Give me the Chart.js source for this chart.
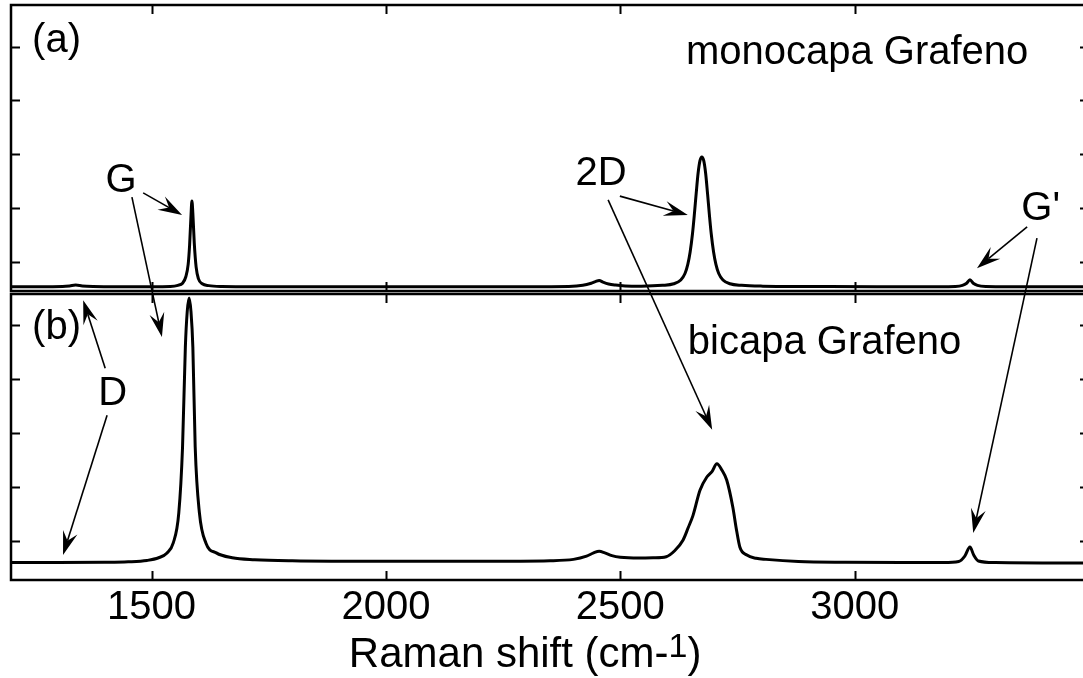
<!DOCTYPE html>
<html>
<head>
<meta charset="utf-8">
<title>Raman grafeno</title>
<script src="https://cdn.jsdelivr.net/npm/chart.js@4.4.1/dist/chart.umd.min.js"></script>
<style>
  html, body { margin: 0; padding: 0; background: #fff; overflow: hidden; }
  #raman { display: block; }
</style>
</head>
<body>
<canvas id="raman" width="1100" height="678"></canvas>
<script>
// axis ticks
const shiftTicks = [1500, 2000, 2500, 3000];
const intensityTicks = [0.5, 1.5, 2.5, 3.5, 4.5];

// (a) monolayer spectrum: Raman shift (cm-1) / intensity (a.u.)
const monoShift = [
  1200, 1260, 1310, 1325, 1338, 1352, 1375, 1430, 1500, 1540,
  1556, 1566, 1573, 1578, 1581, 1584, 1586, 1588, 1591, 1595,
  1600, 1608, 1622, 1650, 1750, 1900, 2100, 2300, 2390, 2420,
  2438, 2447, 2455, 2463, 2475, 2490, 2510, 2545, 2590, 2614,
  2629, 2638, 2644, 2649, 2654, 2658, 2662, 2666, 2670, 2674,
  2678, 2682, 2686, 2690, 2694, 2699, 2704, 2710, 2719, 2734,
  2759, 2804, 2900, 3050, 3180, 3215, 3230, 3239, 3246, 3253,
  3262, 3280, 3330, 3420, 3500
];
const monoCounts = [
  0.035, 0.035, 0.04, 0.05, 0.065, 0.05, 0.04, 0.035, 0.035, 0.04,
  0.06, 0.10, 0.22, 0.45, 0.80, 1.35, 1.63, 1.40, 0.85, 0.40,
  0.18, 0.09, 0.055, 0.04, 0.035, 0.035, 0.035, 0.035, 0.04, 0.06,
  0.10, 0.13, 0.15, 0.12, 0.085, 0.065, 0.05, 0.045, 0.06, 0.09,
  0.16, 0.28, 0.45, 0.68, 1.02, 1.38, 1.78, 2.15, 2.38, 2.45,
  2.38, 2.15, 1.78, 1.38, 1.02, 0.68, 0.45, 0.28, 0.16, 0.09,
  0.06, 0.045, 0.04, 0.035, 0.035, 0.04, 0.06, 0.10, 0.165, 0.10,
  0.06, 0.04, 0.035, 0.035, 0.035
];

// (b) bilayer spectrum
const biShift = [
  1200, 1300, 1400, 1450, 1490, 1515, 1533, 1546, 1558, 1566,
  1572, 1576, 1580, 1584, 1588, 1593, 1602, 1616, 1638, 1672,
  1720, 1800, 2000, 2200, 2350, 2400, 2428, 2443, 2455, 2467,
  2482, 2500, 2540, 2570, 2598, 2616, 2634, 2645, 2655, 2670,
  2685, 2696, 2706, 2717, 2727, 2740, 2748, 2755, 2770, 2790,
  2811, 2880, 2980, 3100, 3190, 3222, 3235, 3246, 3254, 3264,
  3300, 3400, 3500
];
const biCounts = [
  0.10, 0.10, 0.105, 0.115, 0.14, 0.19, 0.28, 0.46, 1.02, 2.24,
  4.09, 4.75, 5.00, 4.75, 4.09, 2.24, 1.02, 0.46, 0.28, 0.19,
  0.155, 0.135, 0.125, 0.125, 0.135, 0.16, 0.22, 0.28, 0.31, 0.28,
  0.23, 0.20, 0.185, 0.19, 0.21, 0.32, 0.52, 0.75, 0.97, 1.44,
  1.69, 1.79, 1.93, 1.81, 1.63, 1.13, 0.70, 0.39, 0.24, 0.18,
  0.16, 0.12, 0.105, 0.10, 0.10, 0.12, 0.22, 0.39, 0.24, 0.13,
  0.10, 0.095, 0.095
];

const FONT = "'Liberation Sans', Arial, sans-serif";

// text labels, placed in data units of their panel
const notes = [
  { text: '(a)', x: 1245, y: 4.60, axis: 'ya', align: 'left' },
  { text: 'monocapa Grafeno', x: 2640, y: 4.38, axis: 'ya', align: 'left' },
  { text: 'G', x: 1435, y: 2.01, axis: 'ya', align: 'center' },
  { text: '2D', x: 2459, y: 2.14, axis: 'ya', align: 'center' },
  { text: "G'", x: 3397, y: 1.48, axis: 'ya', align: 'center' },
  { text: '(b)', x: 1245, y: 4.45, axis: 'yb', align: 'left' },
  { text: 'bicapa Grafeno', x: 2644, y: 4.16, axis: 'yb', align: 'left' },
  { text: 'D', x: 1417, y: 3.22, axis: 'yb', align: 'center' }
];

// arrows from each label to its band: [shift, intensity, axis]
const arrows = [
  { from: [1482, 1.78, 'ya'], to: [1565, 1.37, 'ya'] },
  { from: [1458, 1.70, 'ya'], to: [1522, 4.28, 'yb'] },
  { from: [1401, 3.70, 'yb'], to: [1354, 4.96, 'yb'] },
  { from: [1405, 2.83, 'yb'], to: [1311, 0.24, 'yb'] },
  { from: [2499, 1.72, 'ya'], to: [2644, 1.37, 'ya'] },
  { from: [2474, 1.65, 'ya'], to: [2696, 2.56, 'yb'] },
  { from: [3368, 1.15, 'ya'], to: [3261, 0.38, 'ya'] },
  { from: [3389, 0.94, 'ya'], to: [3253, 0.65, 'yb'] }
];

const toPoints = (xs, ys) => xs.map((x, i) => ({ x, y: ys[i] }));

function drawArrow(ctx, x1, y1, x2, y2) {
  const ang = Math.atan2(y2 - y1, x2 - x1);
  const c = Math.cos(ang), s = Math.sin(ang);
  const len = 24, half = 7.5, notch = 0.62;
  ctx.beginPath();
  ctx.moveTo(x1, y1);
  ctx.lineTo(x2 - c * len * notch, y2 - s * len * notch);
  ctx.stroke();
  const bx = x2 - c * len, by = y2 - s * len;
  ctx.beginPath();
  ctx.moveTo(x2, y2);
  ctx.lineTo(bx - s * half, by + c * half);
  ctx.lineTo(x2 - c * len * notch, y2 - s * len * notch);
  ctx.lineTo(bx + s * half, by - c * half);
  ctx.closePath();
  ctx.fill();
}

const panelFrame = {
  id: 'panelFrame',
  afterDatasetsDraw(chart) {
    const { ctx, scales } = chart;
    const x = scales.x;
    const tick = 9;
    ctx.save();
    ctx.strokeStyle = '#000';
    ctx.fillStyle = '#000';

    // two framed panels with a thin gap between them
    [['ya', 0, 1.5], ['yb', 1.5, 0]].forEach(([id, inTop, inBottom]) => {
      const y = scales[id];
      const top = y.top + inTop, bottom = y.bottom - inBottom;
      ctx.lineWidth = 2.5;
      ctx.strokeRect(x.left, top, x.right - x.left, bottom - top);

      ctx.lineWidth = 2;
      ctx.beginPath();
      shiftTicks.forEach(v => {
        const px = Math.round(x.getPixelForValue(v)) + 0.5;
        ctx.moveTo(px, top); ctx.lineTo(px, top + tick);
        ctx.moveTo(px, bottom); ctx.lineTo(px, bottom - tick);
      });
      intensityTicks.forEach(v => {
        const py = Math.round(y.getPixelForValue(v)) + 0.5;
        ctx.moveTo(x.left, py); ctx.lineTo(x.left + tick, py);
        ctx.moveTo(x.right, py); ctx.lineTo(x.right - tick, py);
      });
      ctx.stroke();
    });

    // band labels
    ctx.font = '40px ' + FONT;
    ctx.textBaseline = 'middle';
    notes.forEach(n => {
      ctx.textAlign = n.align;
      ctx.fillText(n.text, x.getPixelForValue(n.x), scales[n.axis].getPixelForValue(n.y));
    });

    ctx.lineWidth = 1.6;
    arrows.forEach(a => {
      drawArrow(ctx,
        x.getPixelForValue(a.from[0]), scales[a.from[2]].getPixelForValue(a.from[1]),
        x.getPixelForValue(a.to[0]), scales[a.to[2]].getPixelForValue(a.to[1]));
    });

    // axis title with superscript exponent
    const main = 'Raman shift (cm-', sup = '1', tail = ')';
    ctx.textAlign = 'left';
    ctx.textBaseline = 'alphabetic';
    ctx.font = '42px ' + FONT;
    const wMain = ctx.measureText(main).width, wTail = ctx.measureText(tail).width;
    ctx.font = '34px ' + FONT;
    const wSup = ctx.measureText(sup).width;
    const total = wMain + wSup + wTail;
    let tx = x.getPixelForValue(2297) - total / 2;
    const base = chart.height - 11;
    ctx.font = '42px ' + FONT;
    ctx.fillText(main, tx, base);
    ctx.font = '34px ' + FONT;
    ctx.fillText(sup, tx + wMain, base - 10);
    ctx.font = '42px ' + FONT;
    ctx.fillText(tail, tx + wMain + wSup, base);
    ctx.restore();
  }
};

const lineStyle = {
  borderColor: '#000',
  borderWidth: 3,
  pointRadius: 0,
  fill: false,
  cubicInterpolationMode: 'monotone'
};

new Chart(document.getElementById('raman'), {
  type: 'line',
  data: {
    datasets: [
      { label: 'monocapa Grafeno', data: toPoints(monoShift, monoCounts), yAxisID: 'ya', ...lineStyle },
      { label: 'bicapa Grafeno', data: toPoints(biShift, biCounts), yAxisID: 'yb', ...lineStyle }
    ]
  },
  options: {
    responsive: false,
    animation: false,
    events: [],
    layout: { padding: { left: 11, right: 11, top: 5, bottom: 42 } },
    plugins: { legend: { display: false }, tooltip: { enabled: false } },
    scales: {
      x: {
        type: 'linear',
        position: 'bottom',
        min: 1200,
        max: 3500,
        grid: { display: false, drawTicks: false },
        border: { display: false },
        afterBuildTicks: s => { s.ticks = shiftTicks.map(v => ({ value: v })); },
        ticks: {
          color: '#000',
          padding: 8,
          maxRotation: 0,
          autoSkip: false,
          font: { family: FONT, size: 40, lineHeight: 1 },
          callback: v => String(v)
        }
      },
      ya: { type: 'linear', position: 'left', display: false, stack: 'raman', stackWeight: 1, weight: 2, min: -0.073, max: 5.276 },
      yb: { type: 'linear', position: 'left', display: false, stack: 'raman', stackWeight: 1, weight: 1, min: -0.222, max: 5.102 }
    }
  },
  plugins: [panelFrame]
});
</script>
</body>
</html>
